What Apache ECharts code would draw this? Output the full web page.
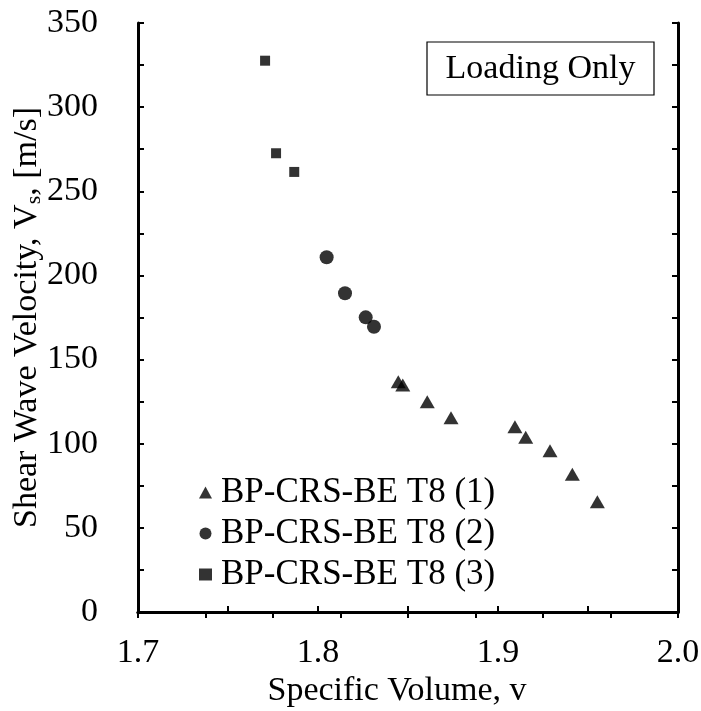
<!DOCTYPE html>
<html><head><meta charset="utf-8">
<script src="https://cdn.jsdelivr.net/npm/echarts@6/dist/echarts.min.js"></script>
<style>html,body{margin:0;padding:0;background:#fff}#c{width:701px;height:711px}</style>
</head><body><div id="c"></div>
<script>
const seriesNames = ['BP-CRS-BE T8 (1)', 'BP-CRS-BE T8 (2)', 'BP-CRS-BE T8 (3)'];
const s1v = [1.8446, 1.8471, 1.8607, 1.8739, 1.9094, 1.9154, 1.9289, 1.9413, 1.9552];
const s1vs = [136.8, 134.9, 125.0, 115.4, 110.1, 103.8, 95.8, 81.8, 65.5];
const s2v = [1.8048, 1.8150, 1.8265, 1.8311];
const s2vs = [210.8, 189.4, 175.1, 169.5];
const s3v = [1.7706, 1.7767, 1.7868];
const s3vs = [327.6, 272.6, 261.5];
const xMin = 1.7, xMax = 2.0, xTick = 0.05;
const yMin = 0, yMax = 350, yTick = 25;

const F = 'Liberation Serif, Times New Roman, serif';
const FS = 34;
const zip = (a, b) => a.map((v, i) => [v, b[i]]);
const chart = echarts.init(document.getElementById('c'));
const axisLine = { show: true, lineStyle: { color: '#000', width: 3 } };
const axisTick = { show: true, inside: true, length: 6, lineStyle: { color: '#000', width: 2 } };
chart.setOption({
  animation: false,
  grid: { left: 138, right: 23, top: 23, bottom: 99, containLabel: false, outerBoundsMode: 'none' },
  legend: {
    orient: 'vertical', left: 194, top: 470, itemGap: 6,
    itemWidth: 13, itemHeight: 12,
    textStyle: { fontFamily: F, fontSize: 35, color: '#000', lineHeight: 35, padding: [0, 0, 0, 4] },
    data: seriesNames.map(n => ({ name: n }))
  },
  graphic: [{
    type: 'rect', shape: { x: 427, y: 42, width: 227, height: 53 },
    style: { fill: '#fff', stroke: '#000', lineWidth: 1.2 }, z: 10
  }, {
    type: 'text', x: 540.5, y: 69, z: 11,
    style: { text: 'Loading Only', fontFamily: F, fontSize: FS, fill: '#000', align: 'center', verticalAlign: 'middle' }
  }],
  xAxis: [{
    type: 'value', min: xMin, max: xMax, interval: xTick,
    name: 'Specific Volume, v', nameLocation: 'middle', nameGap: 62, nameMoveOverlap: false,
    nameTextStyle: { fontFamily: F, fontSize: FS, color: '#000', padding: [0, 22, 0, 0] },
    axisLine, axisTick, splitLine: { show: false },
    axisLabel: { fontFamily: F, fontSize: FS, color: '#000', margin: 24,
      formatter: v => (Math.round(v * 100) % 10 === 0 ? v.toFixed(1) : '') }
  }, {
    type: 'value', position: 'top', min: 0, max: 8, interval: 1,
    axisLine, axisTick, splitLine: { show: false }, axisLabel: { show: false }
  }],
  yAxis: [{
    type: 'value', min: yMin, max: yMax, interval: yTick,
    name: 'Shear Wave Velocity, V{sub|s}, [m/s]', nameLocation: 'middle', nameGap: 93, nameRotate: 90,
    nameMoveOverlap: false,
    nameTextStyle: { fontFamily: F, fontSize: FS, color: '#000',
      rich: { sub: { fontFamily: F, fontSize: 22, color: '#000', verticalAlign: 'bottom', padding: [14, 0, 0, 0] } } },
    axisLine, axisTick, splitLine: { show: false },
    axisLabel: { fontFamily: F, fontSize: FS, color: '#000', margin: 40,
      formatter: v => (Math.round(v) % 50 === 0 ? String(Math.round(v)) : '') }
  }, {
    type: 'value', position: 'right', min: yMin, max: yMax, interval: yTick,
    axisLine, axisTick, splitLine: { show: false }, axisLabel: { show: false }
  }],
  series: [
    { name: seriesNames[0], type: 'scatter', symbol: 'triangle', symbolSize: [15, 13], itemStyle: { color: '#000' }, data: zip(s1v, s1vs) },
    { name: seriesNames[1], type: 'scatter', symbol: 'circle', symbolSize: 14, itemStyle: { color: '#000' }, data: zip(s2v, s2vs) },
    { name: seriesNames[2], type: 'scatter', symbol: 'rect', symbolSize: 10, itemStyle: { color: '#000' }, data: zip(s3v, s3vs) }
  ]
});
</script></body></html>
